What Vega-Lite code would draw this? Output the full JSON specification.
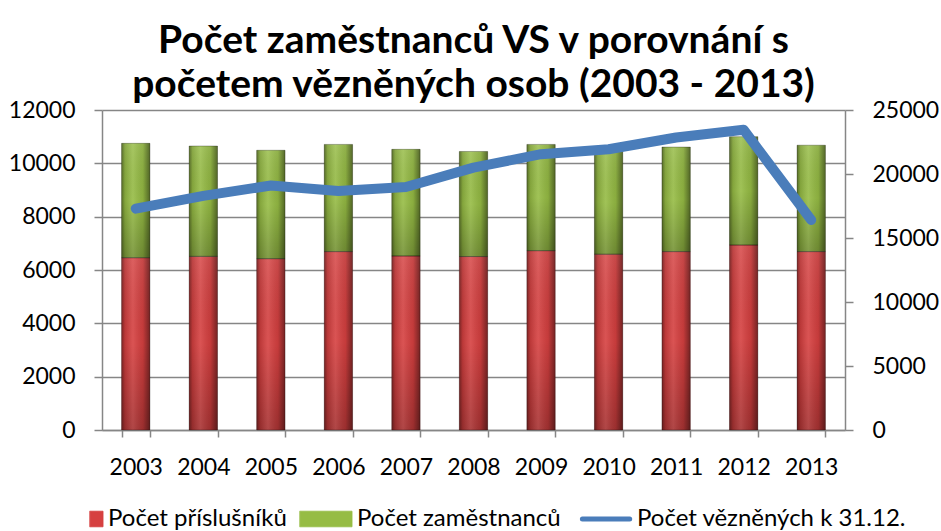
{
  "$schema": "https://vega.github.io/schema/vega-lite/v6.json",
  "width": 743,
  "height": 320,
  "autosize": {"type": "none"},
  "padding": {"left": 102, "top": 110, "right": 96, "bottom": 101},
  "background": "white",
  "config": {
    "font": "Lato",
    "view": {"stroke": null},
    "axis": {
      "domainColor": "#868686",
      "tickColor": "#868686",
      "gridColor": "#868686",
      "domainWidth": 1.5,
      "tickWidth": 1.5,
      "gridWidth": 1.5,
      "labelColor": "#000000",
      "labelFont": "Lato",
      "labelFontSize": 23,
      "titleFontSize": 0
    }
  },
  "title": {
    "text": ["Počet zaměstnanců VS v porovnání s", "početem vězněných osob (2003 - 2013)"],
    "font": "Lato",
    "fontSize": 39,
    "fontWeight": "bold",
    "color": "#000000",
    "anchor": "middle",
    "lineHeight": 44,
    "offset": -6
  },
  "datasets": {
    "staff": [
      {"year": "2003", "series": "Počet příslušníků", "value": 6460},
      {"year": "2003", "series": "Počet zaměstnanců", "value": 4290},
      {"year": "2004", "series": "Počet příslušníků", "value": 6510},
      {"year": "2004", "series": "Počet zaměstnanců", "value": 4140},
      {"year": "2005", "series": "Počet příslušníků", "value": 6425},
      {"year": "2005", "series": "Počet zaměstnanců", "value": 4065},
      {"year": "2006", "series": "Počet příslušníků", "value": 6690},
      {"year": "2006", "series": "Počet zaměstnanců", "value": 4020},
      {"year": "2007", "series": "Počet příslušníků", "value": 6525},
      {"year": "2007", "series": "Počet zaměstnanců", "value": 4000},
      {"year": "2008", "series": "Počet příslušníků", "value": 6505},
      {"year": "2008", "series": "Počet zaměstnanců", "value": 3940},
      {"year": "2009", "series": "Počet příslušníků", "value": 6725},
      {"year": "2009", "series": "Počet zaměstnanců", "value": 3985},
      {"year": "2010", "series": "Počet příslušníků", "value": 6590},
      {"year": "2010", "series": "Počet zaměstnanců", "value": 3880},
      {"year": "2011", "series": "Počet příslušníků", "value": 6690},
      {"year": "2011", "series": "Počet zaměstnanců", "value": 3920},
      {"year": "2012", "series": "Počet příslušníků", "value": 6935},
      {"year": "2012", "series": "Počet zaměstnanců", "value": 4065},
      {"year": "2013", "series": "Počet příslušníků", "value": 6690},
      {"year": "2013", "series": "Počet zaměstnanců", "value": 3990}
    ],
    "inmates": [
      {"year": "2003", "vezni": 17290},
      {"year": "2004", "vezni": 18290},
      {"year": "2005", "vezni": 19100},
      {"year": "2006", "vezni": 18670},
      {"year": "2007", "vezni": 18980},
      {"year": "2008", "vezni": 20500},
      {"year": "2009", "vezni": 21550},
      {"year": "2010", "vezni": 21930},
      {"year": "2011", "vezni": 22850},
      {"year": "2012", "vezni": 23450},
      {"year": "2013", "vezni": 16400}
    ]
  },
  "layer": [
    {
      "data": {"name": "staff"},
      "layer": [
        {
          "mark": {"type": "bar"},
          "encoding": {
            "x": {
              "field": "year",
              "type": "ordinal",
              "scale": {"paddingInner": 0.58, "paddingOuter": 0.29},
              "axis": {
                "title": null,
                "labelAngle": 0,
                "tickBand": "extent",
                "tickSize": 7,
                "labelPadding": 19,
                "grid": false
              }
            },
            "y": {
              "field": "value",
              "type": "quantitative",
              "stack": "zero",
              "scale": {"domain": [0, 12000], "nice": false},
              "axis": {
                "title": null,
                "values": [0, 2000, 4000, 6000, 8000, 10000, 12000],
                "grid": true,
                "tickSize": 8,
                "labelPadding": 19,
                "format": "d"
              }
            },
            "color": {
              "field": "series",
              "type": "nominal",
              "scale": {
                "domain": ["Počet příslušníků", "Počet zaměstnanců", "Počet vězněných k 31.12."],
                "range": ["#D64040", "#96BC44", "#4A7DBA"]
              },
              "legend": {
                "title": null,
                "orient": "none",
                "legendX": -51,
                "legendY": 397,
                "direction": "horizontal",
                "labelFont": "Lato",
                "labelFontSize": 24,
                "labelColor": "#000000",
                "labelLimit": 0,
                "labelOffset": 33,
                "columnPadding": 11,
                "symbolSize": 2704,
                "encode": {
                  "symbols": {
                    "update": {
                      "size": {"value": 2704},
                      "shape": {"signal": "datum.value === 'Počet vězněných k 31.12.' ? 'M-0.37,0H1.45' : (datum.value === 'Počet příslušníků' ? 'M1.04,-0.3H1.54V0.3H1.04Z' : 'M-0.46,-0.3H1.54V0.3H-0.46Z')"},
                      "fill": {"signal": "datum.value === 'Počet vězněných k 31.12.' ? 'transparent' : (datum.value === 'Počet zaměstnanců' ? '#A6CB55' : scale('color', datum.value))"},
                      "stroke": {"signal": "datum.value === 'Počet vězněných k 31.12.' ? scale('color', datum.value) : 'rgba(0,0,0,0.45)'"},
                      "strokeWidth": {"signal": "datum.value === 'Počet vězněných k 31.12.' ? 5 : 0.8"},
                      "strokeCap": {"value": "round"},
                      "opacity": {"value": 1}
                    }
                  }
                }
              }
            },
            "order": {"field": "series"}
          }
        },
        {
          "mark": {
            "type": "bar",
            "fill": {
              "gradient": "linear",
              "x1": 0, "y1": 0, "x2": 0, "y2": 1,
              "stops": [
                {"offset": 0, "color": "rgba(255,255,255,0.08)"},
                {"offset": 0.5, "color": "rgba(0,0,0,0)"},
                {"offset": 1, "color": "rgba(0,0,0,0.22)"}
              ]
            }
          },
          "encoding": {
            "x": {"field": "year", "type": "ordinal"},
            "y": {"field": "value", "type": "quantitative", "stack": "zero"},
            "detail": {"field": "series"},
            "order": {"field": "series"}
          }
        },
        {
          "mark": {
            "type": "bar",
            "fill": {
              "gradient": "linear",
              "x1": 0, "y1": 0, "x2": 1, "y2": 0,
              "stops": [
                {"offset": 0, "color": "rgba(0,0,0,0.42)"},
                {"offset": 0.12, "color": "rgba(0,0,0,0.12)"},
                {"offset": 0.4, "color": "rgba(255,255,255,0.10)"},
                {"offset": 0.75, "color": "rgba(0,0,0,0.08)"},
                {"offset": 1, "color": "rgba(0,0,0,0.45)"}
              ]
            },
            "stroke": "rgba(0,0,0,0.35)",
            "strokeWidth": 0.8
          },
          "encoding": {
            "x": {"field": "year", "type": "ordinal"},
            "y": {"field": "value", "type": "quantitative", "stack": "zero"},
            "detail": {"field": "series"},
            "order": {"field": "series"}
          }
        }
      ]
    },
    {
      "data": {"name": "inmates"},
      "mark": {"type": "line", "strokeWidth": 10, "strokeCap": "round", "strokeJoin": "round"},
      "encoding": {
        "x": {"field": "year", "type": "ordinal"},
        "y": {
          "field": "vezni",
          "type": "quantitative",
          "scale": {"domain": [0, 25000], "nice": false},
          "axis": {
            "orient": "right",
            "title": null,
            "values": [0, 5000, 10000, 15000, 20000, 25000],
            "grid": false,
            "tickSize": 8,
            "labelPadding": 19,
            "format": "d"
          }
        },
        "color": {"datum": "Počet vězněných k 31.12."}
      }
    }
  ],
  "resolve": {"scale": {"y": "independent"}}
}
